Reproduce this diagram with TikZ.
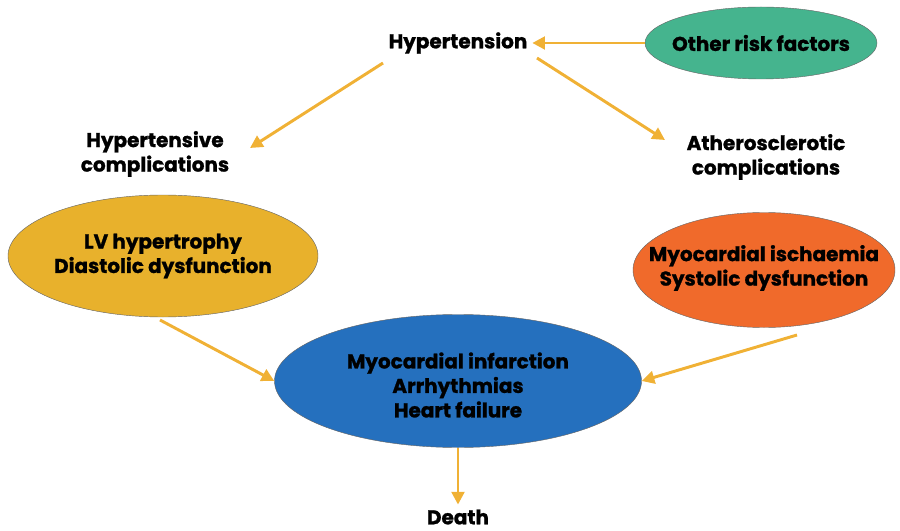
\documentclass[tikz,border=0pt]{standalone}
\usepackage{fontspec}
\setmainfont{Poppins}[BoldFont={Poppins Bold}, BoldFeatures={FakeBold=1.2}]
\usepackage{tikz}
\usetikzlibrary{arrows.meta,shapes.geometric}

\definecolor{riskgreen}{HTML}{45B48E}
\definecolor{lvyellow}{HTML}{E8B12C}
\definecolor{ischorange}{HTML}{F06A2B}
\definecolor{miblue}{HTML}{2570BE}
\definecolor{arrowgold}{HTML}{F0B135}

\begin{document}
\begin{tikzpicture}[x=0.025cm, y=-0.025cm,
    every node/.style={font=\bfseries\fontsize{14.2}{17.4}\selectfont, align=center, text=black},
    blob/.style={ellipse, draw=black!60, line width=0.3pt, inner sep=0pt},
    link/.style={draw=arrowgold, line width=2.1pt, -{Triangle[length=9pt,width=9pt]}}]
  \useasboundingbox (0,0) rectangle (900,531);

  % Top row
  \node (htn) at (458,43) {Hypertension};
  \node[blob, fill=riskgreen, minimum width=232*0.025cm, minimum height=72*0.025cm] (risk) at (761,43) {};
  \node at (risk) {Other risk factors};

  % Complications
  \node (hcomp) at (155,154) {Hypertensive\\complications};
  \node (acomp) at (766,157) {Atherosclerotic\\complications};

  % Ellipses
  \node[blob, fill=lvyellow, minimum width=310*0.025cm, minimum height=122*0.025cm] (lv) at (163,256) {};
  \node at (163,256) {LV hypertrophy\\Diastolic dysfunction};
  \node[blob, fill=ischorange, minimum width=262*0.025cm, minimum height=115*0.025cm] (isch) at (764,270) {};
  \node at (764,268) {Myocardial ischaemia\\Systolic dysfunction};
  \node[blob, fill=miblue, minimum width=367*0.025cm, minimum height=133*0.025cm] (mi) at (458,381) {};
  \node at (458,385) {Myocardial infarction\\Arrhythmias\\Heart failure};

  \node (death) at (458,517) {Death};

  % Arrow ends
  \coordinate (htnl) at (383,63);
  \coordinate (htnr) at (537,58);
  \coordinate (hcompin) at (250,148);
  \coordinate (acompin) at (665,140);
  \coordinate (lvout) at (160,320);
  \coordinate (ischout) at (797,335);

  % Arrows
  \draw[link] (risk.west) -- (htn.east);
  \draw[link] (htnl) -- (hcompin);
  \draw[link] (htnr) -- (acompin);
  \draw[link] (lvout) -- (mi.west);
  \draw[link] (ischout) -- (mi.east);
  \draw[link] (mi.south) -- (death.north);

\end{tikzpicture}
\end{document}
